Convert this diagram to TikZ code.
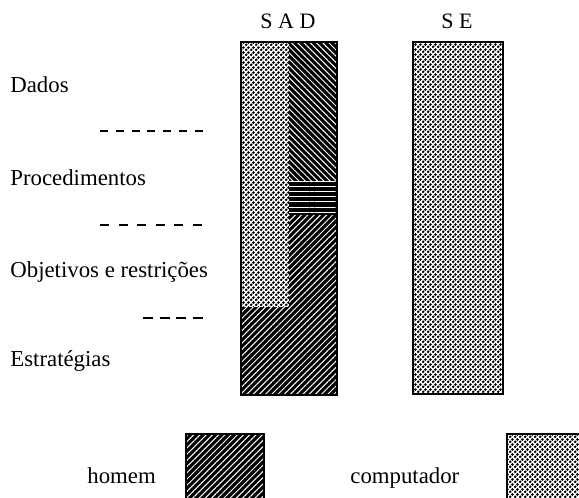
\documentclass[tikz,border=0pt]{standalone}
\usepackage{fontspec}
\setmainfont{Liberation Serif}
\usetikzlibrary{patterns.meta}

% retícula de pontos (parte do computador)
\tikzdeclarepattern{
    name=pontos,
    type=uncolored,
    bounding box={(0pt,0pt) and (2.4pt,2.4pt)},
    tile size={(2.4pt,2.4pt)},
    code={
        \fill (0.6pt,0.6pt) circle (0.76pt);
        \fill (1.8pt,1.8pt) circle (0.76pt);
    }
}

\begin{document}
\begin{tikzpicture}[
        x=0.5pt,
        y=-0.5pt,
        line join=miter,
        every node/.style={font=\fontsize{11.4}{13}\selectfont, inner sep=0pt},
        barra/.style={draw=black, line width=0.9pt},
        titulo/.style={anchor=base, font=\fontsize{11}{12}\selectfont},
        rotulo/.style={anchor=base west},
        separador/.style={line width=0.8pt, dash pattern=on 4pt off 3.9pt},
        riscos/.style={pattern={Lines[angle=#1,distance=2.2pt,line width=0.5pt]}, pattern color=white}
    ]

        \useasboundingbox (0,0) rectangle (579,498);

        % cantos das duas barras
        \coordinate (A1) at (241,42);
        \coordinate (A2) at (337,395);
        \coordinate (M)  at (289,307);
        \coordinate (E1) at (413,42);
        \coordinate (E2) at (503,394);

        % títulos das colunas
        \node[titulo] (sad) at (288,28) {S A D};
        \node[titulo] (se)  at (457,28) {S E};

        % SAD: parte do computador
        \fill[pattern=pontos] (A1) rectangle (M);

        % SAD: parte do homem
        \fill[black] (M|-A1) rectangle (A2);
        \fill[black] (A1|-M) rectangle (A2);
        \fill[riscos=-45] (M|-A1) rectangle (337,180);
        \fill[pattern={Lines[angle=0,distance=2.6pt,line width=0.2pt]}, pattern color=white]
            (289,180) rectangle (337,215);
        \fill[riscos=45]
            (289,215) -- (337,215) -- (A2) -- (241,395) -- (A1|-M) -- (M) -- cycle;

        \draw[barra] (A1) rectangle (A2);

        % SE: tudo computador
        \fill[pattern=pontos] (E1) rectangle (E2);
        \draw[barra] (E1) rectangle (E2);

        % níveis de decisão
        \node[rotulo] (dados) at (10,92)  {Dados};
        \node[rotulo] (proc)  at (10,185) {Procedimentos};
        \node[rotulo] (obj)   at (10,277) {Objetivos e restrições};
        \node[rotulo] (estr)  at (10,366) {Estratégias};

        % separadores tracejados
        \draw[separador] (100,131) -- (203,131);
        \draw[separador, dash pattern=on 4.5pt off 4.8pt] (100,225) -- (203,225);
        \draw[separador, dash pattern=on 5pt off 3.3pt] (143,318) -- (203,318);

        % legenda
        \node[rotulo] (homem) at (87,483)  {homem};
        \fill[black] (186,434) rectangle (264,500);
        \fill[riscos=45] (186,434) rectangle (264,500);
        \draw[barra] (186,434) rectangle (264,500);

        \node[rotulo] (comp) at (350,483) {computador};
        \fill[pattern=pontos] (507,434) rectangle (581,500);
        \draw[barra] (507,434) rectangle (581,500);

    \end{tikzpicture}
\end{document}
